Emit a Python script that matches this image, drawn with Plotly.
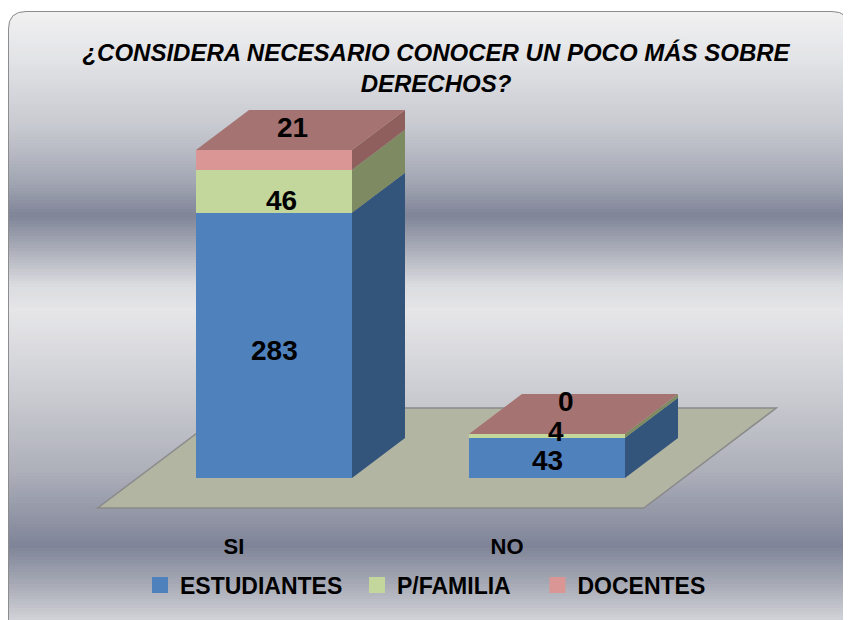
import plotly.graph_objects as go

# ---------------- data ----------------
CATEGORIES = ["SI", "NO"]
SERIES_NAMES = ["ESTUDIANTES", "P/FAMILIA", "DOCENTES"]
ESTUDIANTES = [283, 43]
P_FAMILIA = [46, 4]
DOCENTES = [21, 0]
TITLE = "¿CONSIDERA NECESARIO CONOCER UN POCO MÁS SOBRE<br>DERECHOS?"

# ---------------- style ----------------
OFF = 8                      # page body margin
W, H = 851 - OFF, 620 - OFF
FRONT = ["#4f81bd", "#c3d69b", "#d99694"]
SIDE = ["#33557c", "#7e8a62", "#8e5f5d"]
TOP = ["#3f6797", "#9fae7d", "#a57371"]
FLOOR_FILL = "#b3b5a3"
FLOOR_LINE = "#8a8a8a"
# label pixel shifts per series (rows) and category (cols)
LABEL_XSHIFT = [[0, 0], [7, 9], [18, 19]]
LABEL_YSHIFT = [[-5, -3], [-9, 4], [32, 32]]
LEGEND_X = [132, 349, 529.5]     # figure px of each legend entry


def fx(px):  # page px -> figure px
    return px - OFF


# plot-area pixels & scale (page coords converted)
PL, PR, PT, PB = fx(40), fx(830), fx(95), fx(525)
X0PX, XSTEP = fx(274), 273          # px of category 0 center, px per category
Y0PX, YSCALE = fx(478), 0.937       # px of value 0, px per unit
BAR_W = 156 / XSTEP
DX = 53 / XSTEP                      # depth offset (x units)
DY = 40 / YSCALE                     # depth offset (y units)

xrange_ = [(PL - X0PX) / XSTEP, (PR - X0PX) / XSTEP]
yrange_ = [(Y0PX - PB) / YSCALE, (Y0PX - PT) / YSCALE]

series = [ESTUDIANTES, P_FAMILIA, DOCENTES]
xs = list(range(len(CATEGORIES)))

fig = go.Figure()
shapes = []

# ---------- background gradient (paper coords, full figure) ----------
def hex2rgb(h):
    h = h.lstrip("#")
    return tuple(int(h[i:i + 2], 16) for i in (0, 2, 4))

GRAD = [(11, "#f1f1f2"), (60, "#e2e3e6"), (130, "#c6c8cf"), (185, "#a0a4b1"),
        (215, "#7f8498"), (245, "#a5a8b4"), (285, "#dadbdf"), (310, "#e6e6e8"),
        (380, "#d0d1d6"), (470, "#aeb0ba"), (546, "#7f8498"), (585, "#a8abb6"),
        (622, "#d4d5d9")]

def grad_color(py):
    for (y0, c0), (y1, c1) in zip(GRAD[:-1], GRAD[1:]):
        if y0 <= py <= y1:
            t = (py - y0) / (y1 - y0)
            a, b = hex2rgb(c0), hex2rgb(c1)
            return "rgb(%d,%d,%d)" % tuple(round(a[k] + (b[k] - a[k]) * t) for k in range(3))
    return GRAD[-1][1]

BX0, BX1, BY0 = fx(8), fx(850), fx(11)
step = 3
py = BY0
while py < H:
    shapes.append(dict(type="rect", xref="paper", yref="paper", layer="below",
                       x0=BX0 / W, x1=BX1 / W, y0=1 - py / H, y1=1 - (py + step + 0.6) / H,
                       fillcolor=grad_color(py + OFF + step / 2), line=dict(width=0)))
    py += step

R = 18
def P(px, py_):
    return "%.5f,%.5f" % (px / W, 1 - py_ / H)

# white corner masks
shapes.append(dict(type="path", xref="paper", yref="paper", layer="below",
                   path=f"M {P(BX0-2, BY0-2)} L {P(BX0+R, BY0-2)} L {P(BX0+R, BY0)} Q {P(BX0, BY0)} {P(BX0, BY0+R)} L {P(BX0-2, BY0+R)} Z",
                   fillcolor="white", line=dict(width=0)))
shapes.append(dict(type="path", xref="paper", yref="paper", layer="below",
                   path=f"M {P(BX1+2, BY0-2)} L {P(BX1-R, BY0-2)} L {P(BX1-R, BY0)} Q {P(BX1, BY0)} {P(BX1, BY0+R)} L {P(BX1+2, BY0+R)} Z",
                   fillcolor="white", line=dict(width=0)))
# border
shapes.append(dict(type="path", xref="paper", yref="paper", layer="below",
                   path=f"M {P(BX0+0.5, H+40)} L {P(BX0+0.5, BY0+R)} Q {P(BX0+0.5, BY0+0.5)} {P(BX0+R, BY0+0.5)} L {P(BX1-R, BY0+0.5)} Q {P(BX1-0.5, BY0+0.5)} {P(BX1-0.5, BY0+R)} L {P(BX1-0.5, H+40)}",
                   line=dict(color="#8c8c8c", width=1)))

# ---------- floor (data coords) ----------
def pt(x, y, t):
    return "%.5f,%.5f" % (x + t * DX, y + t * DY)

fx0, fx1 = -0.5, len(CATEGORIES) - 0.5
tf, tb = -0.75, 1.75
shapes.append(dict(type="path", xref="x", yref="y", layer="below",
                   path=f"M {pt(fx0,0,tf)} L {pt(fx1,0,tf)} L {pt(fx1,0,tb)} L {pt(fx0,0,tb)} Z",
                   fillcolor=FLOOR_FILL, line=dict(color=FLOOR_LINE, width=1.5)))

# ---------- bar side / top faces + labels ----------
annotations = []
for i, x in enumerate(xs):
    base = 0
    xr = x + BAR_W / 2
    xl = x - BAR_W / 2
    top_series = 0
    for s, vals in enumerate(series):
        v = vals[i]
        if v > 0:
            shapes.append(dict(type="path", xref="x", yref="y", layer="below",
                               path=f"M {pt(xr,base,0)} L {pt(xr,base+v,0)} L {pt(xr,base+v,1)} L {pt(xr,base,1)} Z",
                               fillcolor=SIDE[s], line=dict(width=0)))
        top_series = s
        annotations.append(dict(x=x, y=base + v / 2, xref="x", yref="y", text=str(v),
                                showarrow=False, xshift=LABEL_XSHIFT[s][i], yshift=LABEL_YSHIFT[s][i],
                                font=dict(family="Liberation Sans", size=28, color="black", weight="bold")))
        base += v
    shapes.append(dict(type="path", xref="x", yref="y", layer="below",
                       path=f"M {pt(xl,base,0)} L {pt(xr,base,0)} L {pt(xr,base,1)} L {pt(xl,base,1)} Z",
                       fillcolor=TOP[top_series], line=dict(width=0)))

# ---------- front faces ----------
for s, vals in enumerate(series):
    fig.add_trace(go.Bar(x=xs, y=vals, width=BAR_W, name=SERIES_NAMES[s],
                         marker=dict(color=FRONT[s], line=dict(width=0)),
                         showlegend=False, hoverinfo="y+name"))

# legend entries (one legend per entry, for exact spacing)
legend_font = dict(family="Liberation Sans", size=23, color="black", weight="bold")
legends = {}
for s in range(len(series)):
    key = "legend" if s == 0 else f"legend{s+1}"
    fig.add_trace(go.Scatter(x=[None], y=[None], mode="markers", name=SERIES_NAMES[s],
                             legend=key,
                             marker=dict(symbol="square", size=16, color=FRONT[s])))
    legends[key] = dict(orientation="h", x=LEGEND_X[s] / W, xanchor="left",
                        y=1 - fx(585) / H, yanchor="middle", bgcolor="rgba(0,0,0,0)",
                        font=legend_font)

fig.update_layout(
    width=W, height=H, autosize=False,
    margin=dict(l=0, r=0, t=0, b=0),
    paper_bgcolor="white", plot_bgcolor="rgba(0,0,0,0)",
    barmode="stack",
    shapes=shapes, annotations=annotations,
    title=dict(text=TITLE, x=fx(436) / W, xanchor="center", y=1 - 52.5 / H, yanchor="middle",
               yref="container",
               font=dict(family="Liberation Sans", size=24, color="black", weight="bold", style="italic")),
    xaxis=dict(domain=[PL / W, PR / W], range=xrange_, tickvals=xs, ticktext=CATEGORIES,
               showgrid=False, zeroline=False, showline=False, ticks="",
               ticklabelshift=-40, ticklabelstandoff=6,
               tickfont=dict(family="Liberation Sans", size=22, color="black", weight="bold")),
    yaxis=dict(domain=[1 - PB / H, 1 - PT / H], range=yrange_, visible=False),
    showlegend=True,
    **legends,
)

fig.write_html("out.html")
